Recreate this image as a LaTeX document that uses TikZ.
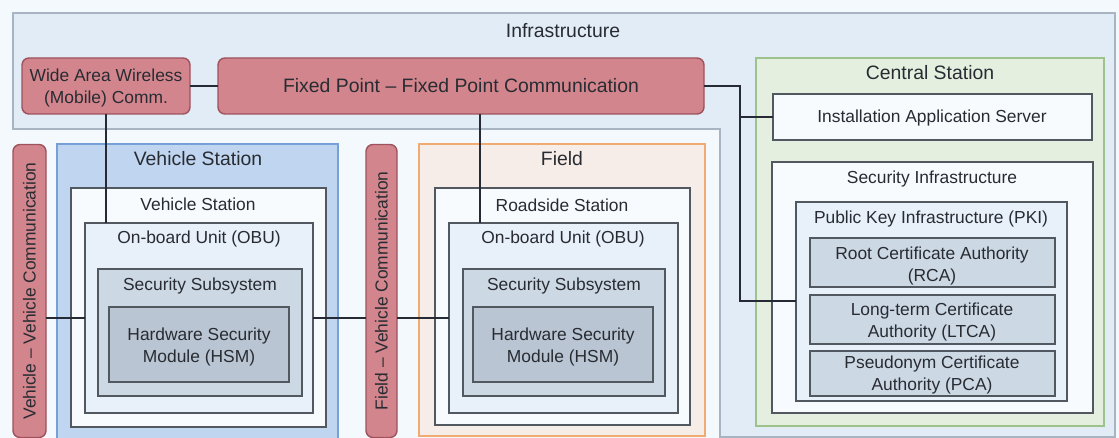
\documentclass[tikz,border=0pt]{standalone}
\usepackage{fontspec}
\setmainfont{Liberation Sans}
\definecolor{txt}{RGB}{40,44,50}
\definecolor{wire}{RGB}{38,42,52}
\definecolor{bgcol}{RGB}{244,249,253}
\definecolor{infrafill}{RGB}{226,236,247}
\definecolor{infraedge}{RGB}{168,180,194}
\definecolor{commfill}{RGB}{211,133,141}
\definecolor{commedge}{RGB}{158,82,92}
\definecolor{vehfill}{RGB}{192,213,240}
\definecolor{vehedge}{RGB}{118,160,216}
\definecolor{fieldfill}{RGB}{246,236,232}
\definecolor{fieldedge}{RGB}{240,172,112}
\definecolor{csfill}{RGB}{228,239,224}
\definecolor{csedge}{RGB}{158,194,140}
\definecolor{paper}{RGB}{248,251,254}
\definecolor{lvl1}{RGB}{232,240,249}
\definecolor{lvl2}{RGB}{205,216,229}
\definecolor{lvl3}{RGB}{185,197,211}
\definecolor{boxedge}{RGB}{82,88,96}
\begin{document}
\begin{tikzpicture}[x=1pt,y=-1pt,
  every node/.style={inner sep=0pt, outer sep=0pt, text=txt,
    font=\fontsize{17.4}{20.5}\selectfont, align=center},
  sz/.style 2 args={minimum width=#1pt, minimum height=#2pt, anchor=north west},
  title/.style={font=\fontsize{19.4}{23}\selectfont},
  twoline/.style={font=\fontsize{17.4}{21.5}\selectfont},
  comm/.style={draw=commedge, fill=commfill, line width=1.4pt, rounded corners=7pt},
  vehbox/.style={draw=vehedge, fill=vehfill, line width=1.4pt},
  fieldbox/.style={draw=fieldedge, fill=fieldfill, line width=1.4pt},
  csbox/.style={draw=csedge, fill=csfill, line width=1.4pt},
  paperbox/.style={draw=boxedge, fill=paper, line width=1.3pt},
  unitbox/.style={draw=boxedge, fill=lvl1, line width=1.3pt},
  subbox/.style={draw=boxedge, fill=lvl2, line width=1.3pt},
  corebox/.style={draw=boxedge, fill=lvl3, line width=1.3pt},
  link/.style={draw=wire, line width=2pt}
]
% page
\fill[bgcol] (0,0) rectangle (1119,438);
\useasboundingbox (0,0) rectangle (1119,438);

% infrastructure band with its right-hand column
\draw[fill=infrafill, draw=infraedge, line width=1.2pt]
  (13,13) -- (1115,13) -- (1115,437) -- (720,437) -- (720,129) -- (13,129) -- cycle;
\node[title] (infra) at (563,31) {Infrastructure};

% communication channels
\node[comm, sz={168}{56}] (wa) at (22,58) {};
\node[twoline] (wa-t) at (106,88) {Wide Area Wireless\\(Mobile) Comm.};
\node[comm, sz={486}{56}, title] (fp) at (218,58) {Fixed Point -- Fixed Point Communication};
\node[comm, rotate=90, minimum width=293pt, minimum height=33pt] (vv) at (29.5,291)
  {Vehicle -- Vehicle Communication};
\node[comm, rotate=90, minimum width=293pt, minimum height=31pt] (fv) at (381.5,291)
  {Field -- Vehicle Communication};

% vehicle station
\node[vehbox, sz={281}{296}] (vsout) at (57,144) {};
\node[title] (vsout-t) at (198,159) {Vehicle Station};
\node[paperbox, sz={255}{239}] (vsin) at (71,188) {};
\node (vsin-t) at (198,204) {Vehicle Station};
\node[unitbox, sz={228}{190}] (vobu) at (85,223) {};
\node (vobu-t) at (199,239) {On-board Unit (OBU)};
\node[subbox, sz={204}{127}] (vss) at (98,269) {};
\node (vss-t) at (200,286) {Security Subsystem};
\node[corebox, sz={180}{75}] (vhsm) at (109,307) {};
\node[twoline] (vhsm-t) at (199,347) {Hardware Security\\Module (HSM)};

% field
\node[fieldbox, sz={286}{292}] (field) at (419,144) {};
\node[title] (field-t) at (562,159) {Field};
\node[paperbox, sz={255}{237}] (rs) at (435,188) {};
\node (rs-t) at (562,205) {Roadside Station};
\node[unitbox, sz={229}{190}] (fobu) at (449,223) {};
\node (fobu-t) at (563,239) {On-board Unit (OBU)};
\node[subbox, sz={202}{127}] (fss) at (463,269) {};
\node (fss-t) at (564,286) {Security Subsystem};
\node[corebox, sz={180}{75}] (fhsm) at (473,307) {};
\node[twoline] (fhsm-t) at (563,347) {Hardware Security\\Module (HSM)};

% central station
\node[csbox, sz={348}{368}] (cs) at (756,58) {};
\node[title] (cs-t) at (930,73) {Central Station};
\node[paperbox, sz={319}{46}] (ias) at (773,94) {};
\node (ias-t) at (932,118) {Installation Application Server};
\node[paperbox, sz={321}{251}] (sec) at (772,162) {};
\node (sec-t) at (932,179) {Security Infrastructure};
\node[unitbox, sz={271}{199}] (pki) at (796,202) {};
\node (pki-t) at (931,219) {Public Key Infrastructure (PKI)};
\node[subbox, sz={245}{49}] (rca) at (810,238) {};
\node[twoline] (rca-t) at (932,266) {Root Certificate Authority\\(RCA)};
\node[subbox, sz={245}{49}] (ltca) at (810,295) {};
\node[twoline] (ltca-t) at (932,322) {Long-term Certificate\\Authority (LTCA)};
\node[subbox, sz={245}{45}] (pca) at (810,351) {};
\node[twoline] (pca-t) at (932,375) {Pseudonym Certificate\\Authority (PCA)};

% connectors
\coordinate (fpdrop) at (480,114);
\coordinate (bus) at (740,86);
\draw[link] (wa.east) -- (fp.west);
\draw[link] (wa.south) -- (wa.south |- vobu.north);
\draw[link] (fpdrop) -- (fpdrop |- fobu.north);
\draw[link] (fp.east) -- (bus) |- (pki.west);
\draw[link] (ias.west -| bus) -- (ias.west);
\draw[link] (vobu.west -| vv.south) -- (vobu.west);
\draw[link] (vobu.east) -- (vobu.east -| fv.north);
\draw[link] (fobu.west -| fv.south) -- (fobu.west);
\end{tikzpicture}
\end{document}
